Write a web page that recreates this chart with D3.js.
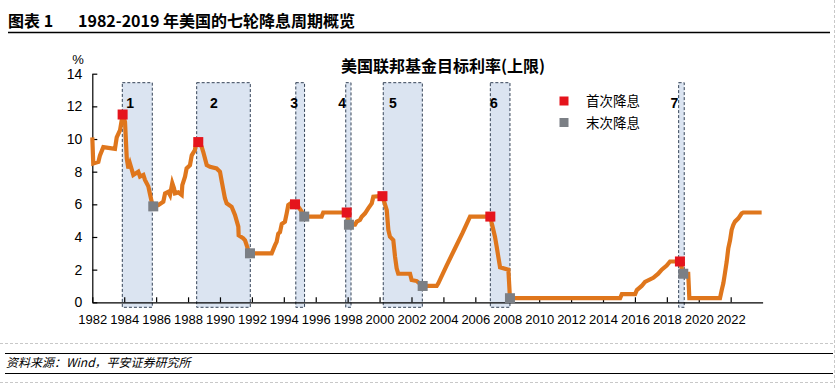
<!DOCTYPE html>
<html>
<head>
<meta charset="utf-8">
<script src="https://cdn.jsdelivr.net/npm/d3@7"></script>
<style>
  body { margin: 0; background: #fff; }
  svg { display: block; font-family: "Liberation Sans", Arial, "Noto Sans CJK SC", sans-serif; }
</style>
</head>
<body>
<div class="canvas"></div>
<script>
// fed funds target upper bound, [year, %]
var rateSeries = [
  [1982.00, 10.1], [1982.06, 8.5], [1982.38, 8.6], [1982.48, 9.0], [1982.69, 9.5], [1983.42, 9.4],
  [1983.53, 10.1], [1983.74, 10.55], [1983.90, 11.5], [1984.05, 11.05], [1984.16, 8.8], [1984.26, 8.2],
  [1984.36, 8.5], [1984.57, 7.8], [1984.88, 8.0], [1984.99, 7.7], [1985.20, 7.8], [1985.30, 7.5],
  [1985.51, 7.1], [1985.62, 6.6], [1985.72, 6.16], [1985.82, 5.875], [1986.14, 5.96], [1986.45, 6.16],
  [1986.56, 6.67], [1986.76, 6.77], [1986.87, 6.57], [1987.01, 7.3], [1987.12, 6.98], [1987.18, 6.67],
  [1987.39, 6.73], [1987.60, 6.57], [1987.64, 7.18], [1987.81, 7.69], [1987.91, 8.2], [1988.12, 8.4],
  [1988.23, 9.0], [1988.43, 9.33], [1988.50, 9.74], [1988.64, 9.8125], [1988.85, 9.53], [1988.95, 9.22],
  [1989.17, 8.4], [1989.37, 8.3], [1989.79, 8.2], [1990.00, 8.0], [1990.11, 7.4], [1990.31, 6.37],
  [1990.42, 6.06], [1990.73, 5.85], [1990.94, 5.35], [1991.15, 4.63], [1991.17, 4.1], [1991.46, 3.92],
  [1991.57, 3.8], [1991.67, 3.5], [1991.77, 3.2], [1991.88, 3.0], [1993.24, 3.0], [1993.45, 3.5],
  [1993.55, 3.7], [1993.65, 4.2], [1993.76, 4.3], [1993.87, 4.8], [1994.07, 4.93], [1994.18, 5.45],
  [1994.28, 5.96], [1994.49, 6.1], [1994.70, 6.0], [1994.91, 5.85], [1995.12, 5.55], [1995.28, 5.25],
  [1996.37, 5.25], [1996.47, 5.5], [1997.94, 5.5], [1998.08, 4.75], [1998.46, 4.75], [1998.57, 4.94],
  [1998.77, 5.04], [1998.88, 5.24], [1999.09, 5.45], [1999.29, 5.75], [1999.51, 6.06], [1999.61, 6.47],
  [2000.03, 6.5], [2000.18, 6.5], [2000.45, 5.65], [2000.55, 4.43], [2000.65, 4.02], [2000.86, 3.81],
  [2000.97, 2.79], [2001.07, 2.08], [2001.17, 1.75], [2001.91, 1.75], [2002.01, 1.37], [2002.33, 1.3],
  [2002.70, 1.0], [2003.58, 1.0], [2003.68, 1.16], [2004.20, 2.25], [2004.70, 3.25], [2005.20, 4.25],
  [2005.67, 5.25], [2006.94, 5.25], [2007.03, 4.84], [2007.23, 4.02], [2007.34, 3.4], [2007.44, 2.79],
  [2007.55, 2.14], [2008.07, 2.0], [2008.17, 0.25], [2015.07, 0.25], [2015.18, 0.5], [2016.01, 0.5],
  [2016.12, 0.75], [2016.42, 1.0], [2016.63, 1.25], [2017.15, 1.5], [2017.46, 1.75], [2017.68, 2.0],
  [2017.99, 2.25], [2018.20, 2.5], [2018.82, 2.5], [2019.03, 1.75], [2019.34, 1.75], [2019.41, 0.25],
  [2021.33, 0.25], [2021.44, 0.75], [2021.54, 1.16], [2021.64, 1.78], [2021.75, 2.49], [2021.85, 3.3],
  [2021.96, 3.8], [2022.06, 4.43], [2022.16, 4.73], [2022.27, 4.94], [2022.48, 5.14], [2022.69, 5.45],
  [2022.79, 5.5], [2023.94, 5.5]
];

var firstCuts = [[1983.90, 11.5], [1988.64, 9.8125], [1994.70, 6.0], [1997.94, 5.5], [2000.18, 6.5], [2006.94, 5.25], [2018.82, 2.5]];
var lastCuts = [[1985.82, 5.875], [1991.88, 3.0], [1995.28, 5.25], [1998.08, 4.75], [2002.70, 1.0], [2008.17, 0.25], [2019.03, 1.75]];

// easing cycles: start year, end year, label year
var cycleNames = ["1", "2", "3", "4", "5", "6", "7"];
var cycleStart = [1983.88, 1988.54, 1994.75, 1997.88, 2000.23, 2006.94, 2018.74];
var cycleEnd = [1985.76, 1991.90, 1995.30, 1998.21, 2002.68, 2008.17, 2019.09];
var cycleLabelAt = [1984.37, 1989.62, 1994.64, 1997.65, 2000.84, 2007.17, 2018.47];

var xTicks = d3.range(1982, 2023, 2);
var yTicks = [0, 2, 4, 6, 8, 10, 12, 14];
var legendNames = ["首次降息", "末次降息"];

var W = 837, H = 389;
var svg = d3.select(".canvas").append("svg").attr("width", W).attr("height", H);

var x = d3.scaleLinear().domain([1982, 2024]).range([92.3, 762.6]);
var y = d3.scaleLinear().domain([0, 14]).range([302.3, 73.7]);

// page furniture
svg.append("text").attr("x", 8).attr("y", 27).style("font-size", "16px").style("font-weight", "bold")
    .style("font-family", "'Noto Sans CJK SC', sans-serif").text("图表 1");
svg.append("text").attr("x", 78).attr("y", 27).style("font-size", "16px").style("font-weight", "bold")
    .style("font-family", "'Noto Sans CJK SC', sans-serif").text("1982-2019 年美国的七轮降息周期概览");
svg.append("line").attr("x1", 8).attr("x2", 830).attr("y1", 32.5).attr("y2", 32.5).attr("stroke", "#000").attr("stroke-width", 1.5);

svg.append("line").attr("x1", 0).attr("x2", 834).attr("y1", 343.5).attr("y2", 343.5)
    .attr("stroke", "#c8c8c8").attr("stroke-dasharray", "3,2");
svg.append("line").attr("x1", 0).attr("x2", 834).attr("y1", 382.5).attr("y2", 382.5)
    .attr("stroke", "#c8c8c8").attr("stroke-dasharray", "3,2");
svg.append("line").attr("x1", 834.5).attr("x2", 834.5).attr("y1", 0).attr("y2", H)
    .attr("stroke", "#c8c8c8").attr("stroke-dasharray", "3,2");
svg.append("line").attr("x1", 5).attr("x2", 833).attr("y1", 353.5).attr("y2", 353.5).attr("stroke", "#000").attr("stroke-width", 1.2);
svg.append("line").attr("x1", 5).attr("x2", 833).attr("y1", 373.5).attr("y2", 373.5).attr("stroke", "#000").attr("stroke-width", 1.2);
svg.append("text").attr("x", 6).attr("y", 367).style("font-size", "12px").style("font-style", "italic")
    .style("font-family", "'Noto Sans CJK SC', sans-serif").text("资料来源：Wind，平安证券研究所");

// shaded cycles
var bands = svg.append("g").selectAll("rect")
    .data(cycleNames)
    .enter()
    .append("rect")
    .attr("x", function(d, i){ return x(cycleStart[i]); })
    .attr("width", function(d, i){ return x(cycleEnd[i]) - x(cycleStart[i]); })
    .attr("y", y(13.45))
    .attr("height", y(0) + 5 - y(13.45))
    .attr("fill", "#dbe4f1")
    .attr("stroke", "#1f2f45")
    .attr("stroke-width", 0.9)
    .attr("stroke-dasharray", "3,2");

svg.append("g").selectAll("text")
    .data(cycleNames)
    .enter()
    .append("text")
    .attr("x", function(d, i){ return x(cycleLabelAt[i]); })
    .attr("y", y(12.2) + 5)
    .attr("text-anchor", "middle")
    .style("font-size", "14px")
    .style("font-weight", "bold")
    .text(function(d){ return d; });

// axes
var xAxis = svg.append("g").attr("transform", "translate(0," + y(0) + ")")
    .call(d3.axisBottom(x).tickValues(xTicks).tickFormat(d3.format("d")).tickSizeInner(-5).tickSizeOuter(0).tickPadding(10));
var yAxis = svg.append("g").attr("transform", "translate(" + x(1982) + ",0)")
    .call(d3.axisLeft(y).tickValues(yTicks).tickSizeInner(-5).tickSizeOuter(0).tickPadding(10));
[xAxis, yAxis].forEach(function(a){
    a.select(".domain").attr("stroke", "#000").attr("stroke-width", 1.2);
    a.selectAll(".tick line").attr("stroke", "#000").attr("stroke-width", 1.2);
    a.selectAll("text").attr("fill", "#000").style("font-family", "'Liberation Sans', Arial, sans-serif");
});
xAxis.selectAll("text").style("font-size", "13px").attr("dy", "0.9em");
yAxis.selectAll("text").style("font-size", "14px");

svg.append("text").attr("x", 78).attr("y", 64).attr("text-anchor", "middle").style("font-size", "13px").text("%");
svg.append("text").attr("x", 443).attr("y", 72).attr("text-anchor", "middle").style("font-size", "16px")
    .style("font-weight", "bold").style("font-family", "'Noto Sans CJK SC', sans-serif").text("美国联邦基金目标利率(上限)");

// the rate line
var line = d3.line()
    .x(function(d){ return x(d[0]); })
    .y(function(d){ return y(d[1]); });
svg.append("path").datum(rateSeries)
    .attr("d", line)
    .attr("fill", "none")
    .attr("stroke", "#df761c")
    .attr("stroke-width", 4.2)
    .attr("stroke-linejoin", "miter");

var sz = 10;
svg.append("g").selectAll("rect")
    .data(firstCuts)
    .enter()
    .append("rect")
    .attr("x", function(d){ return x(d[0]) - sz/2; })
    .attr("y", function(d){ return y(d[1]) - sz/2; })
    .attr("width", sz).attr("height", sz)
    .attr("fill", "#e5141c");
svg.append("g").selectAll("rect")
    .data(lastCuts)
    .enter()
    .append("rect")
    .attr("x", function(d){ return x(d[0]) - sz/2; })
    .attr("y", function(d){ return y(d[1]) - sz/2; })
    .attr("width", sz).attr("height", sz)
    .attr("fill", "#7b7f85");

// legend
var legend = svg.append("g").selectAll("g")
    .data(legendNames)
    .enter()
    .append("g")
    .attr("transform", function(d, i){ return "translate(564," + (101 + i*21.5) + ")"; });
legend.append("rect").attr("x", -4.5).attr("y", -4.5).attr("width", 9).attr("height", 9)
    .attr("fill", function(d, i){ return i === 0 ? "#e5141c" : "#7b7f85"; });
legend.append("text").attr("x", 22).attr("y", 5).style("font-size", "13.5px")
    .style("font-family", "'Noto Sans CJK SC', sans-serif").text(function(d){ return d; });
</script>
</body>
</html>
